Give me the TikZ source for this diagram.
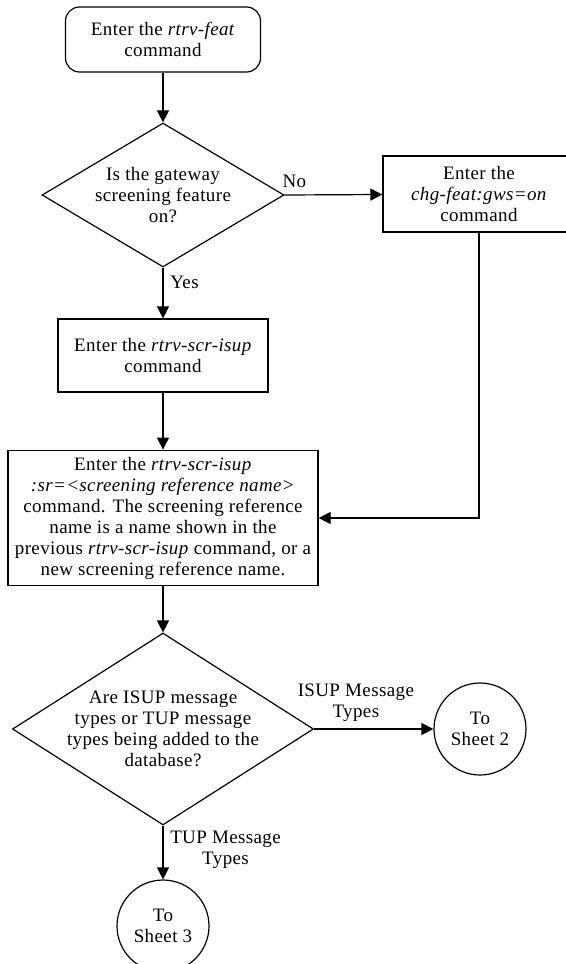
\documentclass[tikz,border=0pt]{standalone}
\usepackage{fontspec}
\setmainfont{Liberation Serif}[LetterSpace=2]
\usetikzlibrary{arrows.meta,positioning,shapes.geometric}

\begin{document}
\begin{tikzpicture}[
  x=0.5pt, y=-0.5pt, line width=0.6pt,
  every node/.style={font=\fontsize{9.5}{10.5}\selectfont, align=center},
  startbox/.style={draw, rounded corners=7pt, minimum width=97.5pt, minimum height=32.5pt},
  cmdbox/.style 2 args={draw, minimum width=#1, minimum height=#2},
  decision/.style 2 args={draw, diamond, inner sep=0pt, minimum width=#1, minimum height=#2},
  sheet/.style={draw, circle, inner sep=0pt, minimum size=46pt},
  arr/.style={-{Triangle[length=6pt,width=6pt]}},
]
  \useasboundingbox (0,0) rectangle (566,964);
  \clip (0,0) rectangle (566,964);

  % Start
  \node[startbox] (start) at (163,39.5) {Enter the \textit{rtrv-feat}\\command};

  % Feature check
  \node[decision={121pt}{72pt}, label={center:{Is the gateway\\screening feature\\on?}}] (gwsq) at (163,195) {};
  \node[cmdbox={96pt}{38pt}] (gwson) at (479,194) {Enter the\\\textit{chg-feat:gws=on}\\command};
  \draw[arr] (start) -- (gwsq);
  \draw[arr] (gwsq.east) -- node[pos=0.1, above] {No} (gwson);

  % Screening references
  \node[cmdbox={105pt}{36.5pt}] (rtrvscr) at (163,355.5) {Enter the \textit{rtrv-scr-isup}\\command};
  \draw[arr] (gwsq.south) -- node[pos=0.3, right] {Yes} (rtrvscr);
  \node[cmdbox={155pt}{64pt}] (rtrvsr) at (163,518) {Enter the \textit{rtrv-scr-isup}\\\textit{:sr=<screening reference name>}\\command. The screening reference\\name is a name shown in the\\previous \textit{rtrv-scr-isup} command, or a\\new screening reference name.};
  \draw[arr] (rtrvscr) -- (rtrvsr);
  \draw[arr] (gwson.south) |- (rtrvsr.east);

  % Message types
  \node[decision={150.5pt}{96pt}, label={center:{Are ISUP message\\types or TUP message\\types being added to the\\database?}}] (msgq) at (163,729) {};
  \draw[arr] (rtrvsr) -- (msgq);
  \node[sheet] (sheet2) at (480,729) {To\\Sheet 2};
  \node[sheet] (sheet3) at (163,926) {To\\Sheet 3};
  \draw[arr] (msgq.east) -- node[pos=0.35, above] {ISUP Message\\Types} (sheet2);
  \draw[arr] (msgq.south) -- node[pos=0.45, right] {TUP Message\\Types} (sheet3);
\end{tikzpicture}
\end{document}
